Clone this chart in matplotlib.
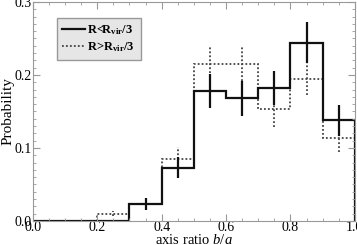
#!/usr/bin/env python3
import matplotlib
matplotlib.use("Agg")
import matplotlib.pyplot as plt
from matplotlib.ticker import MultipleLocator

# bin edges and histogram values (axis ratio b/a)
edges = [0.0, 0.1, 0.2, 0.3, 0.4, 0.5, 0.6, 0.7, 0.8, 0.9, 1.0]
centers = [0.05, 0.15, 0.25, 0.35, 0.45, 0.55, 0.65, 0.75, 0.85, 0.95]

inner = [0.0, 0.0, 0.0, 0.023, 0.073, 0.178, 0.168, 0.182, 0.244, 0.138]
inner_err = [0.0, 0.0, 0.0, 0.008, 0.014, 0.023, 0.024, 0.023, 0.028, 0.021]

outer = [0.0, 0.0, 0.010, 0.023, 0.085, 0.215, 0.215, 0.153, 0.195, 0.114]
outer_err = [0.0, 0.0, 0.003, 0.008, 0.016, 0.023, 0.023, 0.024, 0.022, 0.019]

plt.rcParams['font.family'] = ['Liberation Serif', 'DejaVu Serif']
plt.rcParams['mathtext.fontset'] = 'custom'
plt.rcParams['mathtext.rm'] = 'Liberation Serif'
plt.rcParams['mathtext.it'] = 'Liberation Serif:italic'
plt.rcParams['mathtext.bf'] = 'Liberation Serif:bold'


def main():
    fig = plt.figure(figsize=(3.57, 2.45), dpi=100)
    ax = fig.add_axes([0.092, 0.098, 0.902, 0.894])

    ax.stairs(outer, edges, color='#444444', lw=1.3, ls=(0, (1, 1.2)),
              label=r'R>R$_\mathbf{vir}$/3')
    ax.stairs(inner, edges, color='#111111', lw=1.6, ls='-',
              label=r'R<R$_\mathbf{vir}$/3')

    # error bars only where there is data
    oc = [c for c, v in zip(centers, outer) if v > 0]
    ov = [v for v in outer if v > 0]
    oe = [e for e, v in zip(outer_err, outer) if v > 0]
    eb = ax.errorbar(oc, ov, yerr=oe, fmt='none', ecolor='#444444',
                     elinewidth=1.3, capsize=0)
    eb[2][0].set_linestyle((0, (1, 1.2)))

    ic = [c for c, v in zip(centers, inner) if v > 0]
    iv = [v for v in inner if v > 0]
    ie = [e for e, v in zip(inner_err, inner) if v > 0]
    ax.errorbar(ic, iv, yerr=ie, fmt='none', ecolor='#111111', elinewidth=1.6,
                capsize=0)

    ax.set_xlim(0, 1.0)
    ax.set_ylim(0, 0.3)
    ax.xaxis.set_major_locator(MultipleLocator(0.2))
    ax.xaxis.set_minor_locator(MultipleLocator(0.05))
    ax.yaxis.set_major_locator(MultipleLocator(0.1))
    ax.yaxis.set_minor_locator(MultipleLocator(0.01))
    ax.xaxis.set_major_formatter(plt.FormatStrFormatter('%.1f'))
    ax.yaxis.set_major_formatter(plt.FormatStrFormatter('%.1f'))
    ax.tick_params(which='both', direction='in', top=True, right=True,
                   color='#999999', labelsize=10)
    ax.tick_params(axis='x', pad=0)
    ax.tick_params(axis='y', pad=1)
    ax.tick_params(which='major', length=5)
    ax.tick_params(which='minor', length=2.5)
    for s in ax.spines.values():
        s.set_color('#999999')
        s.set_linewidth(0.8)

    ax.set_xlabel(r'axis ratio $b/a$', fontsize=10.5, labelpad=-1)
    ax.set_ylabel('Probability', fontsize=11, labelpad=0)

    h, l = ax.get_legend_handles_labels()
    leg = ax.legend(h[::-1], l[::-1], loc='upper left',
                    bbox_to_anchor=(0.055, 0.955),
                    prop={'size': 9, 'weight': 'bold'},
                    frameon=True, fancybox=False, handlelength=1.8,
                    handletextpad=0.2, borderpad=0.45, labelspacing=0.25)
    leg.get_frame().set_facecolor('#e6e6e6')
    leg.get_frame().set_edgecolor('#999999')
    leg.get_frame().set_alpha(1)

    fig.savefig('out.png', dpi=100)


if __name__ == '__main__':
    main()
